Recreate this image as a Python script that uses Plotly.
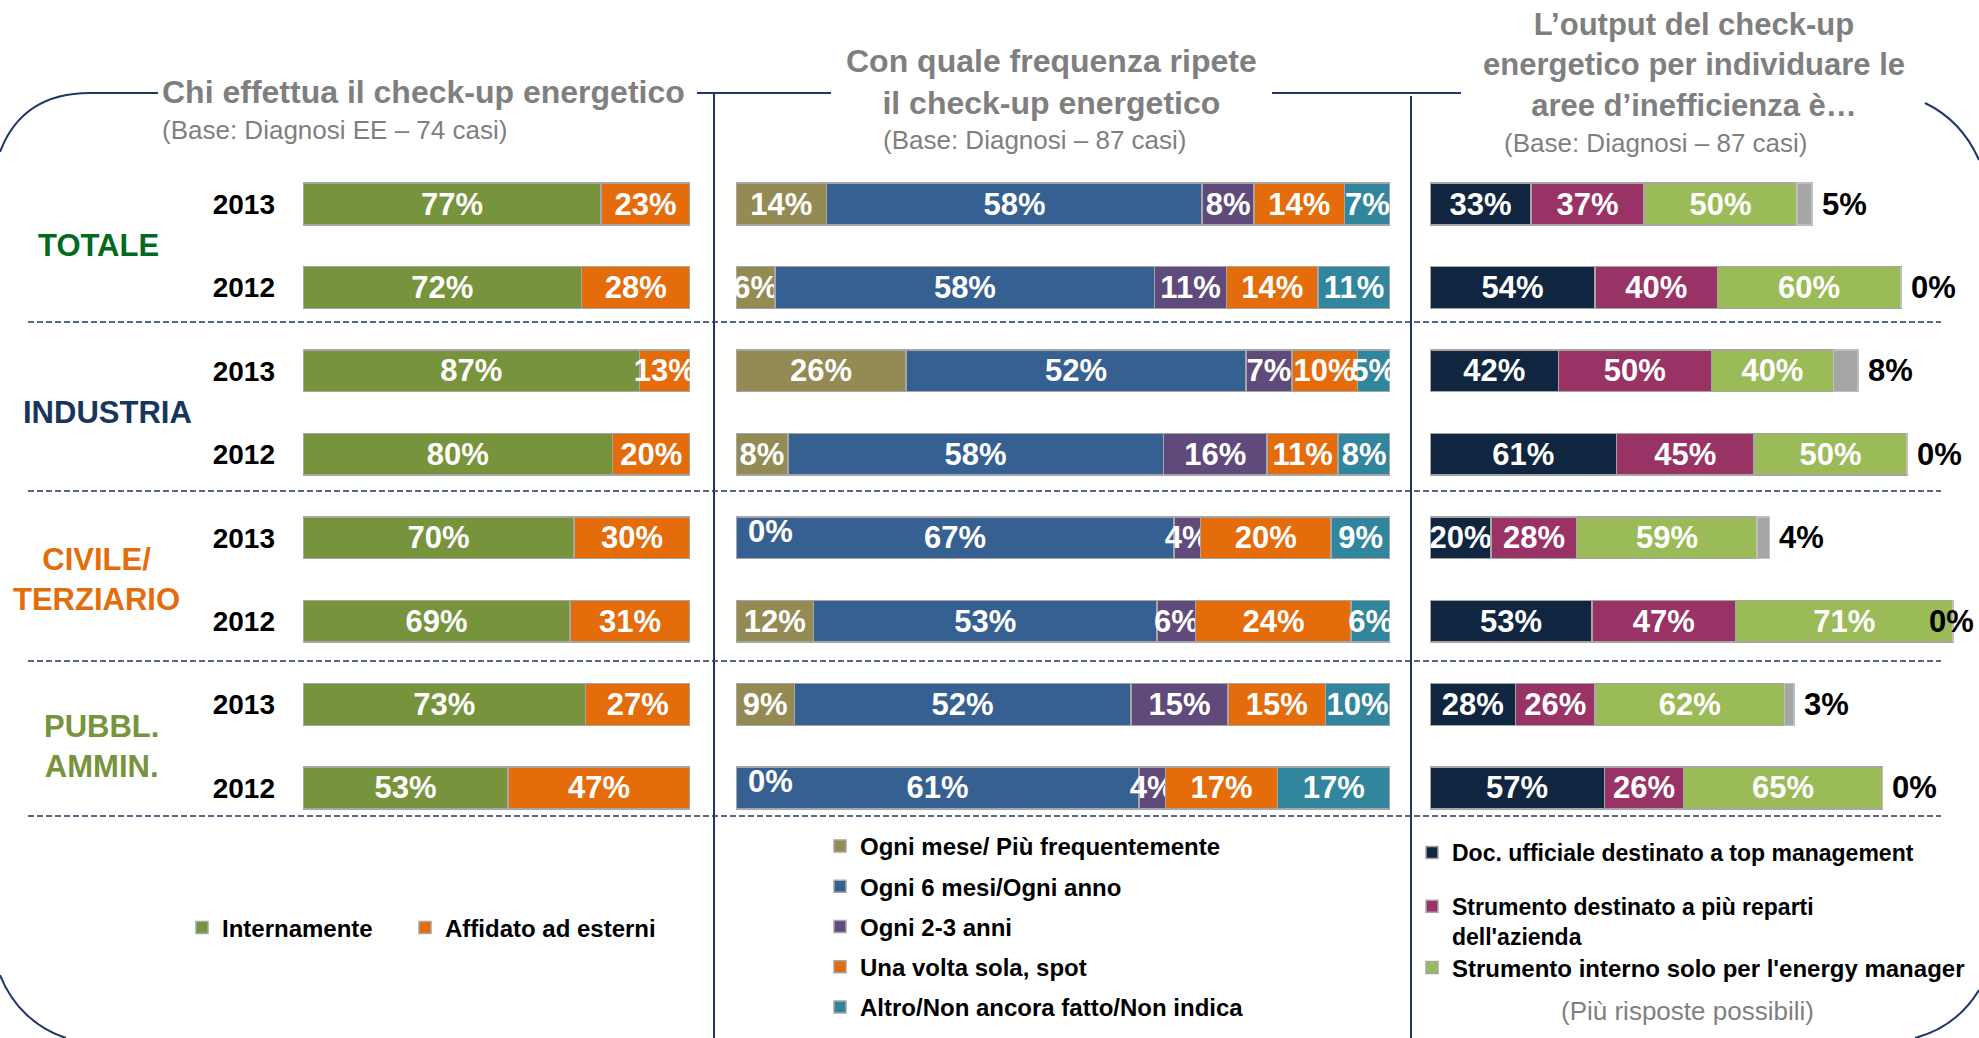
import plotly.graph_objects as go

W, H = 1979, 1038
FONT = "Arial, 'Liberation Sans', Helvetica, sans-serif"

# ---------------- data ----------------
sectors = ["TOTALE", "INDUSTRIA", "CIVILE/<br>TERZIARIO", "PUBBL.<br>AMMIN."]
sector_colors = ["#006B1F", "#17365D", "#E46C0A", "#77933C"]
years = ["2013", "2012"]
row_ids = [f"{s}|{y}" for s in sectors for y in years]
row_years = [y for s in sectors for y in years]

# Panel 1 - Chi effettua il check-up energetico
p1_names = ["Internamente", "Affidato ad esterni"]
internamente = [77, 72, 87, 80, 70, 69, 73, 53]
affidato = [23, 28, 13, 20, 30, 31, 27, 47]
p1_values = [internamente, affidato]
p1_colors = ["#77933C", "#E46C0A"]
p1_legends = ["legend", "legend4"]

# Panel 2 - Con quale frequenza ripete il check-up energetico
p2_names = ["Ogni mese/ Più frequentemente", "Ogni 6 mesi/Ogni anno", "Ogni 2-3 anni",
            "Una volta sola, spot", "Altro/Non ancora fatto/Non indica"]
ogni_mese = [14, 6, 26, 8, 0, 12, 9, 0]
ogni_6_mesi = [58, 58, 52, 58, 67, 53, 52, 61]
ogni_2_3_anni = [8, 11, 7, 16, 4, 6, 15, 4]
una_volta = [14, 14, 10, 11, 20, 24, 15, 17]
altro = [7, 11, 5, 8, 9, 6, 10, 17]
p2_values = [ogni_mese, ogni_6_mesi, ogni_2_3_anni, una_volta, altro]
p2_colors = ["#948A54", "#376092", "#604A7B", "#E46C0A", "#31859C"]

# Panel 3 - L'output del check-up energetico
p3_names = ["Doc. ufficiale destinato a top management",
            "Strumento destinato a più reparti<br>dell'azienda",
            "Strumento interno solo per l'energy manager"]
doc_ufficiale = [33, 54, 42, 61, 20, 53, 28, 57]
strumento_reparti = [37, 40, 50, 45, 28, 47, 26, 26]
strumento_em = [50, 60, 40, 50, 59, 71, 62, 65]
non_indica = [5, 0, 8, 0, 4, 0, 3, 0]
p3_values = [doc_ufficiale, strumento_reparti, strumento_em]
p3_colors = ["#10253F", "#993366", "#9BBB59"]
p3_legends = ["legend3", "legend3", "legend5"]
p3_groups = ["a", "b", "c"]

GRAY_TXT = "#7F7F7F"
NAVY = "#1F3864"

fig = go.Figure()

def bar(x, text, name, color, xaxis, legend, group=None, showlegend=True):
    return go.Bar(
        y=row_ids, x=x, orientation="h", name=f"<b>{name}</b>",
        marker=dict(color=color, line=dict(color="#A6A6A6", width=1.5)),
        text=text, texttemplate="<b>%{text}%</b>", textposition="inside",
        insidetextanchor="middle", textangle=0, constraintext="none",
        textfont=dict(family=FONT, size=31, color="white"),
        xaxis=xaxis, yaxis="y", legend=legend, legendgroup=group,
        showlegend=showlegend, hoverinfo="skip",
    )

for name, vals, col, lg in zip(p1_names, p1_values, p1_colors, p1_legends):
    fig.add_trace(bar(vals, vals, name, col, "x", lg))

row_tot2 = [sum(v[i] for v in p2_values) for i in range(len(row_ids))]
for k, (name, vals, col) in enumerate(zip(p2_names, p2_values, p2_colors)):
    norm = [v / t * 100 for v, t in zip(vals, row_tot2)]
    fig.add_trace(bar(norm, vals, name, col, "x2", "legend2", group=f"g{k}"))

for name, vals, col, lg, g in zip(p3_names, p3_values, p3_colors, p3_legends, p3_groups):
    fig.add_trace(bar(vals, vals, name, col, "x3", lg, group=g))
fig.add_trace(go.Bar(
    y=row_ids, x=non_indica, orientation="h", name="Non indica",
    marker=dict(color="#A6A6A6", line=dict(color="#BFBFBF", width=1.5)),
    xaxis="x3", yaxis="y", showlegend=False, hoverinfo="skip"))

annotations = []
# zero labels (panel 2)
for i, v in enumerate(ogni_mese):
    if v == 0:
        annotations.append(dict(x=0, xref="x2", y=row_ids[i], yref="y", text="<b>0%</b>",
                                showarrow=False, xanchor="left", xshift=10, yshift=6,
                                font=dict(family=FONT, size=31, color="white")))
# outside labels (panel 3)
for i, v in enumerate(non_indica):
    tot = doc_ufficiale[i] + strumento_reparti[i] + strumento_em[i] + v
    annotations.append(dict(x=min(tot, 160), xref="x3", y=row_ids[i], yref="y",
                            text=f"<b>{v}%</b>", showarrow=False, xanchor="left", xshift=8,
                            font=dict(family=FONT, size=31, color="black")))
# sector labels
sector_x = [98, 107, 96, 101]
for k, (s, c, sx) in enumerate(zip(sectors, sector_colors, sector_x)):
    annotations.append(dict(x=sx / W, xref="paper", y=2 * k + 0.5, yref="y", text=f"<b>{s}</b>",
                            showarrow=False, xanchor="center", yanchor="middle",
                            font=dict(family=FONT, size=31, color=c)))

def txt(x, y, text, size, color=GRAY_TXT, xanchor="center"):
    return dict(x=x / W, y=1 - y / H, xref="paper", yref="paper", text=text, showarrow=False,
                xanchor=xanchor, yanchor="middle", font=dict(family=FONT, size=size, color=color))

annotations += [
    txt(160, 92, "<b>Chi effettua il check-up energetico</b>", 32, xanchor="left"),
    txt(160, 130, "(Base: Diagnosi EE – 74 casi)", 26, xanchor="left"),
    txt(1051, 82, "<b>Con quale frequenza ripete<br>il check-up energetico</b>", 32),
    txt(1034, 140, "(Base: Diagnosi – 87 casi)", 26),
    txt(1694, 65, "<b>L’output del check-up<br>energetico per individuare le<br>aree d’inefficienza è…</b>", 31),
    txt(1655, 143, "(Base: Diagnosi – 87 casi)", 26),
    txt(1687, 1011, "(Più risposte possibili)", 26),
]

def px(x, y):
    return f"{x / W:.5f},{1 - y / H:.5f}"

shapes = []
def line(x0, y0, x1, y1, dash="solid", width=2):
    shapes.append(dict(type="line", xref="paper", yref="paper", x0=x0 / W, y0=1 - y0 / H,
                       x1=x1 / W, y1=1 - y1 / H, line=dict(color=NAVY, width=width, dash=dash)))

for yy in [322, 491, 661, 816]:
    line(28, yy, 1941, yy, dash="6px,3px", width=1.5)
line(714, 94, 714, 1038)
line(1411, 96, 1411, 1038)
line(697, 93, 831, 93)
line(1272, 93, 1461, 93)
paths = [
    f"M {px(0,152)} C {px(15,112)} {px(45,93)} {px(90,93)} L {px(158,93)}",
    f"M {px(1925,103)} C {px(1950,115)} {px(1968,135)} {px(1979,160)}",
    f"M {px(0,975)} C {px(12,1005)} {px(35,1028)} {px(66,1038)}",
    f"M {px(1979,990)} C {px(1965,1013)} {px(1945,1030)} {px(1915,1038)}",
]
for p in paths:
    shapes.append(dict(type="path", xref="paper", yref="paper", path=p,
                       line=dict(color=NAVY, width=2)))

leg_font = dict(family=FONT, size=24, color="black")
def leg(x, y, yanchor="middle", gap=10, size=24):
    return dict(orientation="v", x=x / W, y=1 - y / H, xanchor="left", yanchor=yanchor,
                font=dict(leg_font, size=size), traceorder="grouped", tracegroupgap=gap,
                valign="top", bgcolor="rgba(0,0,0,0)")

fig.update_layout(
    width=W, height=H, margin=dict(l=0, r=0, t=0, b=0),
    paper_bgcolor="white", plot_bgcolor="rgba(0,0,0,0)",
    barmode="stack", bargap=0.5, hovermode=False,
    xaxis=dict(domain=[303 / W, 690 / W], range=[0, 100], visible=False),
    xaxis2=dict(domain=[736 / W, 1390 / W], range=[0, 100], visible=False),
    xaxis3=dict(domain=[1430 / W, 1965 / W], range=[0, 175], visible=False),
    yaxis=dict(domain=[(H - 829.7) / H, (H - 162.3) / H], type="category",
               categoryorder="array", categoryarray=row_ids, range=[7.5, -0.5],
               tickvals=row_ids, ticktext=[f"<b>{y}</b>" for y in row_years],
               tickfont=dict(family=FONT, size=28, color="black"),
               showgrid=False, zeroline=False, showline=False, ticks="",
               ticklabelstandoff=27),
    legend=leg(182, 928),
    legend4=leg(405, 928),
    legend2=leg(820, 926.5, gap=6),
    legend3=leg(1412, 831, yanchor="top", gap=21, size=23),
    legend5=leg(1412, 968, size=24),
    annotations=annotations, shapes=shapes,
)

fig.write_html("out.html", config={"displayModeBar": False},
               post_script="document.body.style.margin='0px';document.body.style.overflow='hidden';")
